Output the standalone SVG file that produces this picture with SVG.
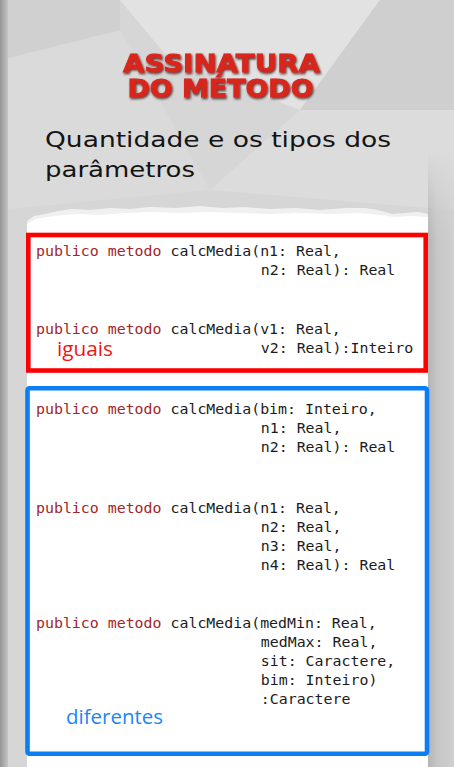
<svg xmlns="http://www.w3.org/2000/svg" width="454" height="767" viewBox="0 0 454 767">
<defs>
<linearGradient id="leftStrip" x1="0" y1="0" x2="1" y2="0">
<stop offset="0" stop-color="#959595"/>
<stop offset="1" stop-color="#c4c4c4"/>
</linearGradient>
<linearGradient id="rightStrip" x1="0" y1="0" x2="1" y2="0">
<stop offset="0" stop-color="#b4b4b4"/>
<stop offset="0.35" stop-color="#c6c6c6"/>
<stop offset="1" stop-color="#cfcfcf"/>
</linearGradient>
<linearGradient id="fadeV" x1="0" y1="0" x2="0" y2="1">
<stop offset="0" stop-color="#fff" stop-opacity="0"/>
<stop offset="0.15" stop-color="#fff" stop-opacity="1"/>
</linearGradient>
<mask id="fadeMask"><rect x="420" y="150" width="34" height="617" fill="url(#fadeV)"/></mask>
<filter id="sh" x="-10%" y="-30%" width="130%" height="180%">
<feDropShadow dx="1" dy="1.5" stdDeviation="0.9" flood-color="#3a0808" flood-opacity="0.85"/>
</filter>
</defs>
<style>
.code{font-family:"DejaVu Sans Mono","Liberation Mono",monospace;font-size:14.9px;fill:#1c1c1c}
.kw{fill:#a3262a}
.title{font-family:"DejaVu Sans","Liberation Sans",sans-serif;font-weight:bold;font-size:24.5px;fill:#d8261c;stroke:#d8261c;stroke-width:0.8}
.sub{font-family:"DejaVu Sans","Open Sans",sans-serif;font-size:21px;fill:#141414}
.note{font-family:"Open Sans","Noto Sans",sans-serif;font-size:19.5px}
</style>
<!-- background -->
<rect x="0" y="0" width="454" height="767" fill="#d6d6d6"/>
<polygon points="120,0 380,0 300,110 170,60" fill="#e2e2e2"/>
<polygon points="380,0 454,0 454,110 300,110" fill="#cfcfcf"/>
<polygon points="0,60 120,30 210,190 0,210" fill="#dadada"/>
<polygon points="210,190 300,110 454,110 454,210" fill="#dcdcdc"/>
<polygon points="0,0 120,0 120,30 0,60" fill="#d0d0d0"/>
<rect x="0" y="0" width="8" height="767" fill="url(#leftStrip)"/>
<rect x="428" y="150" width="26" height="617" fill="url(#rightStrip)" mask="url(#fadeMask)"/>
<!-- paper -->
<path d="M27,221 L34,216 L45,214 L58,211 L72,209 L90,210 L110,208 L130,209 L150,207 L175,208 L200,206 L222,208 L245,207 L270,209 L295,208 L320,210 L345,208 L365,208 L378,210 L392,214 L405,213 L418,212 L428,214 L428,767 L27,767 Z" fill="#f0f0f0"/>
<path d="M27,224 L36,219 L48,217 L62,215 L80,214 L100,215 L125,213 L150,212 L180,213 L210,212 L240,213 L270,214 L300,213 L330,214 L360,213 L380,215 L395,217 L410,216 L428,217 L428,767 L27,767 Z" fill="#ffffff"/>
<g id="title" filter="url(#sh)">
<text class="title" x="123" y="72" textLength="197" lengthAdjust="spacingAndGlyphs">ASSINATURA</text>
<text class="title" x="127.5" y="96.5" textLength="186" lengthAdjust="spacingAndGlyphs">DO MÉTODO</text>
</g>
<g id="subtitle">
<text class="sub" x="45" y="146.5" textLength="346" lengthAdjust="spacingAndGlyphs">Quantidade e os tipos dos</text>
<text class="sub" x="45" y="176.5" textLength="150" lengthAdjust="spacingAndGlyphs">parâmetros</text>
</g>
<g id="connectors"/>
<g id="iguais-box">
<rect x="28.3" y="235" width="397.4" height="135.5" fill="none" stroke="#fe0000" stroke-width="4.6"/>
<text class="code" x="36" y="255.5"><tspan class="kw">publico metodo</tspan> calcMedia(n1: Real,</text>
<text class="code" x="260.8" y="274.5">n2: Real): Real</text>
<text class="code" x="36" y="334"><tspan class="kw">publico metodo</tspan> calcMedia(v1: Real,</text>
<text class="code" x="260.8" y="353">v2: Real):Inteiro</text>
<text class="note" x="57" y="355.5" fill="#f01414" textLength="56" lengthAdjust="spacingAndGlyphs">iguais</text>
</g>
<g id="diferentes-box">
<rect x="27.5" y="388.2" width="399.5" height="365.5" rx="2" fill="none" stroke="#0b7ef6" stroke-width="4.6"/>
<text class="code" x="36" y="414"><tspan class="kw">publico metodo</tspan> calcMedia(bim: Inteiro,</text>
<text class="code" x="260.8" y="433">n1: Real,</text>
<text class="code" x="260.8" y="452">n2: Real): Real</text>
<text class="code" x="36" y="512.5"><tspan class="kw">publico metodo</tspan> calcMedia(n1: Real,</text>
<text class="code" x="260.8" y="531.5">n2: Real,</text>
<text class="code" x="260.8" y="550.5">n3: Real,</text>
<text class="code" x="260.8" y="569.5">n4: Real): Real</text>
<text class="code" x="36" y="628.3"><tspan class="kw">publico metodo</tspan> calcMedia(medMin: Real,</text>
<text class="code" x="260.8" y="647.3">medMax: Real,</text>
<text class="code" x="260.8" y="666.3">sit: Caractere,</text>
<text class="code" x="260.8" y="685.3">bim: Inteiro)</text>
<text class="code" x="260.8" y="704.3">:Caractere</text>
<text class="note" x="66" y="723.5" fill="#1a86f6" textLength="97" lengthAdjust="spacingAndGlyphs">diferentes</text>
</g>
</svg>
